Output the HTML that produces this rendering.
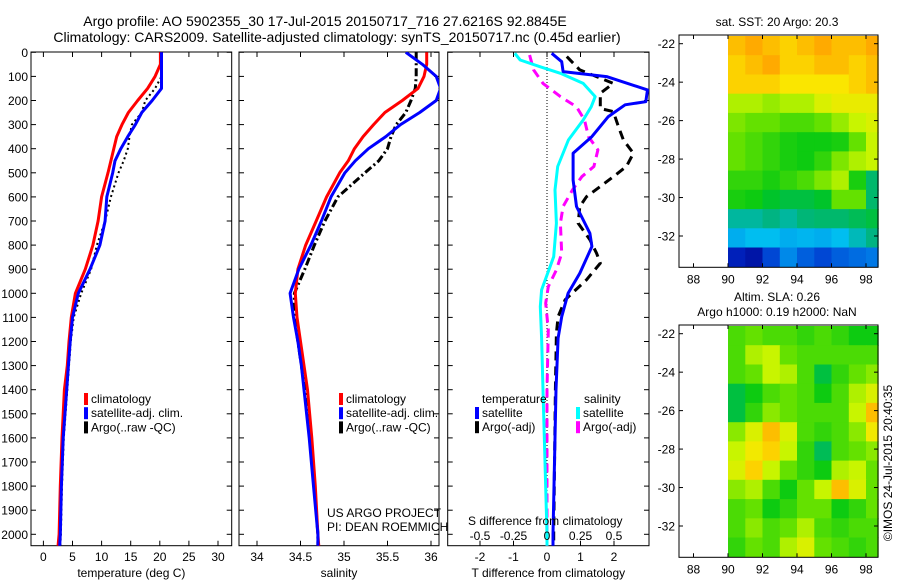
<!DOCTYPE html>
<html><head><meta charset="utf-8">
<style>
html,body{margin:0;padding:0;background:#fff;}
svg{display:block;font-family:"Liberation Sans",sans-serif;}
text{fill:#000;}
</style></head>
<body>
<svg id="fig" width="900" height="580" viewBox="0 0 900 580" xmlns="http://www.w3.org/2000/svg">
<text x="325" y="26" font-size="14" text-anchor="middle">Argo profile: AO 5902355_30 17-Jul-2015 20150717_716 27.6216S 92.8845E</text>
<text x="337" y="42" font-size="14" text-anchor="middle">Climatology: CARS2009. Satellite-adjusted climatology: synTS_20150717.nc (0.45d earlier)</text>
<text x="777" y="26" font-size="12" text-anchor="middle">sat. SST: 20 Argo: 20.3</text>
<text x="777" y="301" font-size="12" text-anchor="middle">Altim. SLA: 0.26</text>
<text x="777" y="316" font-size="12" text-anchor="middle">Argo h1000: 0.19 h2000: NaN</text>
<text transform="translate(892,463) rotate(-90)" font-size="12" text-anchor="middle">©IMOS 24-Jul-2015 20:40:35</text>
<g id="layer"></g>
</svg>
<script>
// ---------- data ----------
const depthStd = [0,50,100,150,200,250,300,350,400,450,500,600,700,800,900,1000,1100,1200,1300,1400,1600,1800,2000,2050];
const tempClim = [20.1,20.1,19.2,17.9,16.2,14.6,13.5,12.6,12.1,11.6,11.1,10.0,9.4,8.5,7.2,5.5,4.8,4.4,4.1,3.6,3.2,2.9,2.7,2.5];
const tempSat  = [20.3,20.3,20.3,20.3,18.7,16.9,15.8,14.5,13.3,12.3,11.9,10.9,10.6,9.7,8.0,6.0,5.0,4.6,4.3,4.0,3.4,3.1,2.9,2.8];
const tempArgo = [20.3,20.3,20.3,19.2,17.5,16.9,15.2,14.8,14.5,13.8,12.9,11.6,10.6,9.2,8.2,6.5,5.2,4.7,4.4,4.1,3.5,3.2,3.0,2.9];
const salClim  = [35.95,35.95,35.92,35.85,35.67,35.47,35.34,35.22,35.12,35.05,34.95,34.8,34.68,34.56,34.47,34.44,34.46,34.5,34.54,34.58,34.63,34.67,34.7,34.71];
const salSat   = [35.71,35.9,36.06,36.11,36.06,35.87,35.65,35.48,35.28,35.13,35.01,34.85,34.74,34.62,34.48,34.38,34.42,34.47,34.51,34.54,34.6,34.65,34.7,34.7];
const salArgo  = [35.83,35.83,35.83,35.82,35.77,35.71,35.6,35.54,35.5,35.4,35.24,34.93,34.78,34.66,34.55,34.43,34.43,34.47,34.51,34.55,34.61,34.66,34.7,34.7];

const tdSatDepth = [4,39,80,101,156,205,218,267,350,419,530,640,751,806,917,1000,1097,1186,1400,2000,2050];
const tdSat      = [0.14,0.44,0.48,1.78,3.0,2.95,2.33,1.83,1.34,0.78,0.78,0.88,1.28,1.34,0.98,0.63,0.44,0.33,0.27,0.18,0.18];
const tdArgoDepth = [18,73,129,170,233,246,308,364,419,474,516,557,599,640,709,778,834,875,944,1027,1097,1166,1400,2000,2050];
const tdArgo      = [0.59,0.98,1.98,1.59,1.59,1.98,2.13,2.28,2.58,2.37,1.98,1.59,1.18,0.98,0.93,1.28,1.48,1.59,1.18,0.54,0.33,0.28,0.25,0.2,0.2];
const sdSatDepth = [4,32,60,87,129,184,226,281,364,474,571,709,848,986,1055,1186,1400,2000,2050];
const sdSat      = [-0.24,-0.2,-0.05,0.1,0.27,0.36,0.33,0.27,0.16,0.08,0.06,0.07,0.05,-0.04,-0.05,-0.04,-0.03,0,0];
const sdArgoDepth = [11,73,129,184,226,281,350,405,474,516,571,640,709,834,903,972,1041,1152,1400,2000,2050];
const sdArgo      = [-0.13,-0.1,-0.03,0.1,0.22,0.28,0.31,0.38,0.35,0.26,0.19,0.12,0.1,0.11,0.07,0.01,-0.01,0.01,0,0,0];

const depthTicks = [0,100,200,300,400,500,600,700,800,900,1000,1100,1200,1300,1400,1500,1600,1700,1800,1900,2000];
const tempTicks = [0,5,10,15,20,25,30];
const salTicks = [34,34.5,35,35.5,36];
const tdTicks = [-2,-1,0,1,2];
const sdTicks = [-0.5,-0.25,0,0.25,0.5];
const lonTicks = [88,90,92,94,96,98];
const latTicks = [-22,-24,-26,-28,-30,-32];

const sstGrid = [
 [0.8,0.82,0.8,0.78,0.8,0.82,0.8,0.8,0.82],
 [0.78,0.8,0.82,0.78,0.78,0.8,0.8,0.78,0.8],
 [0.78,0.78,0.78,0.76,0.76,0.76,0.76,0.78,0.8],
 [0.68,0.68,0.66,0.68,0.68,0.72,0.74,0.74,0.74],
 [0.64,0.62,0.62,0.6,0.6,0.62,0.66,0.7,0.72],
 [0.62,0.6,0.58,0.56,0.55,0.55,0.56,0.62,0.7],
 [0.62,0.6,0.58,0.56,0.55,0.58,0.64,0.68,0.7],
 [0.58,0.58,0.56,0.58,0.6,0.64,0.68,0.56,0.46],
 [0.56,0.55,0.52,0.5,0.5,0.52,0.62,0.62,0.46],
 [0.42,0.42,0.44,0.42,0.45,0.46,0.46,0.48,0.5],
 [0.34,0.36,0.36,0.34,0.35,0.34,0.36,0.4,0.44],
 [0.12,0.08,0.2,0.3,0.24,0.2,0.24,0.26,0.28]];
const slaGrid = [
 [0.6,0.62,0.6,0.6,0.58,0.6,0.58,0.55,0.55],
 [0.6,0.68,0.7,0.62,0.6,0.6,0.6,0.6,0.6],
 [0.6,0.62,0.7,0.68,0.6,0.5,0.58,0.62,0.65],
 [0.5,0.55,0.6,0.62,0.6,0.55,0.6,0.68,0.72],
 [0.5,0.58,0.65,0.62,0.6,0.6,0.6,0.7,0.8],
 [0.65,0.72,0.8,0.72,0.6,0.58,0.6,0.65,0.75],
 [0.7,0.75,0.78,0.7,0.58,0.48,0.6,0.62,0.65],
 [0.72,0.78,0.7,0.62,0.58,0.55,0.68,0.7,0.62],
 [0.65,0.68,0.6,0.55,0.62,0.7,0.8,0.72,0.62],
 [0.6,0.62,0.55,0.58,0.62,0.62,0.55,0.58,0.62],
 [0.6,0.65,0.6,0.62,0.68,0.6,0.58,0.6,0.6],
 [0.58,0.62,0.6,0.68,0.72,0.62,0.6,0.58,0.6]];

// ---------- helpers ----------
const NS='http://www.w3.org/2000/svg';
const layer=document.getElementById('layer');
function mk(tag,attrs,parent){const e=document.createElementNS(NS,tag);for(const k in attrs)e.setAttribute(k,attrs[k]);(parent||layer).appendChild(e);return e;}
function lin(d0,d1,r0,r1){return v=>r0+(v-d0)*(r1-r0)/(d1-d0);}

const PT=52, PB=545.7;
const yD=lin(0,1000,52.3,293.3);

function panel(name,x0,x1,xs,ticks,labelsFmt,xlabel,showDepth){
  const g=mk('g',{});
  
  
  const cid='clip-'+name;
  const cp=mk('clipPath',{id:cid},g);
  mk('rect',{x:x0,y:PT,width:x1-x0,height:PB-PT},cp);
  const fr=mk('rect',{x:x0,y:PT,width:x1-x0,height:PB-PT,fill:'none',stroke:'#000','stroke-width':1},g);
  
  
  ticks.forEach(t=>{const x=xs(t);
    mk('line',{x1:x,x2:x,y1:PB,y2:PB-5,stroke:'#000'},g);
    mk('line',{x1:x,x2:x,y1:PT,y2:PT+5,stroke:'#000'},g);
    const tl=mk('text',{x:x,y:561,'font-size':12,'text-anchor':'middle'},g);tl.textContent=labelsFmt(t);
    
    
  });
  depthTicks.forEach(d=>{const y=yD(d);
    mk('line',{x1:x0,x2:x0+5,y1:y,y2:y,stroke:'#000'},g);
    mk('line',{x1:x1,x2:x1-5,y1:y,y2:y,stroke:'#000'},g);
    if(showDepth){const tl=mk('text',{x:28,y:y+4.5,'font-size':12,'text-anchor':'end'},g);tl.textContent=d;
      
      }
  });
  const xl=mk('text',{x:(x0+x1)/2,y:577,'font-size':12,'text-anchor':'middle'},g);xl.textContent=xlabel;
  
  
  const inner=mk('g',{'clip-path':'url(#'+cid+')'},g);
  return inner;
}
function series(parent,name,xs,vals,depths,color,w,dash){
  const pts=vals.map((v,i)=>xs(v).toFixed(1)+','+yD(depths[i]).toFixed(1)).join(' ');
  const p=mk('polyline',{points:pts,fill:'none',stroke:color,'stroke-width':w,'stroke-linejoin':'round'},parent);
  if(dash)p.setAttribute('stroke-dasharray',dash);
  
  
}
function legend(x,y,items){
  items.forEach((it,i)=>{
    const yy=y+i*14.2;
    mk('rect',{x:x,y:yy-10,width:4,height:12,fill:it[1]});
    const t=mk('text',{x:x+7,y:yy,'font-size':12});t.textContent=it[0];
    
    
  });
}
function txt(x,y,s,name,anchor){const t=mk('text',{x:x,y:y,'font-size':12,'text-anchor':anchor||'start'});t.textContent=s;
  
  return t;}

// ---------- panel 1: temperature ----------
const xT=lin(0,30,43.4,218);
const p1=panel('temperature-panel',31,231.7,xT,tempTicks,t=>t,'temperature (deg C)',true);
series(p1,'temp-argo-raw',xT,tempArgo,depthStd,'#000',2,'2,3');
series(p1,'temp-climatology',xT,tempClim,depthStd,'#f00',3);
series(p1,'temp-satellite-adj',xT,tempSat,depthStd,'#00f',3);
legend(84,403,[['climatology','#f00'],['satellite-adj. clim.','#00f'],['Argo(..raw -QC)','#000']]);

// ---------- panel 2: salinity ----------
const xS=lin(34,36,257,431);
const p2=panel('salinity-panel',239,439,xS,salTicks,t=>t,'salinity',false);
series(p2,'sal-argo-raw',xS,salArgo,depthStd,'#000',3,'8,3,2,3');
series(p2,'sal-climatology',xS,salClim,depthStd,'#f00',3);
series(p2,'sal-satellite-adj',xS,salSat,depthStd,'#00f',3);
legend(339,403,[['climatology','#f00'],['satellite-adj. clim.','#00f'],['Argo(..raw -QC)','#000']]);
txt(327,517,'US ARGO PROJECT','project-credit');
txt(327,531,'PI: DEAN ROEMMICH','pi-credit');

// ---------- panel 3: differences ----------
const xTD=lin(0,2,547,614);
const xSD=lin(0,0.5,547,614);
const p3=panel('difference-panel',447.7,649,xTD,tdTicks,t=>t,'T difference from climatology',false);
mk('line',{x1:xTD(0),x2:xTD(0),y1:PT,y2:PB,stroke:'#000','stroke-width':1,'stroke-dasharray':'1,2'},p3);
sdTicks.forEach(t=>{const l=txt(xSD(t),540,String(t),'s-diff-tick-label','middle');});
txt(468,525,'S difference from climatology','s-diff-axis-title');
series(p3,'tdiff-argo',xTD,tdArgo,tdArgoDepth,'#000',3,'9,6');
series(p3,'sdiff-argo',xSD,sdArgo,sdArgoDepth,'#f0f',3,'9,6');
series(p3,'sdiff-satellite',xSD,sdSat,sdSatDepth,'#0ff',3);
series(p3,'tdiff-satellite',xTD,tdSat,tdSatDepth,'#00f',3);
txt(482,403,'temperature','legend-temperature-header');
txt(584,403,'salinity','legend-salinity-header');
legend(475,417,[['satellite','#00f'],['Argo(-adj)','#000']]);
legend(576,417,[['satellite','#0ff'],['Argo(-adj)','#f0f']]);

// ---------- maps ----------
const stops=[[0,0,0,130],[0.15,0,40,200],[0.28,0,120,230],[0.36,0,190,240],[0.44,0,180,130],[0.54,0,200,20],[0.62,100,225,0],[0.7,200,245,0],[0.76,250,230,0],[0.82,255,170,0],[1,230,110,0]];
function cmap(v){for(let i=1;i<stops.length;i++){if(v<=stops[i][0]){const a=stops[i-1],b=stops[i],f=(v-a[0])/(b[0]-a[0]);
  return 'rgb('+[1,2,3].map(k=>Math.round(a[k]+f*(b[k]-a[k]))).join(',')+')';}}return 'rgb(230,110,0)';}
function map(name,top,bot,grid){
  const xL=lin(90,98,728,866), yL=lin(-22,-32,top+8.7,top+8.7+192.3);
  const g=mk('g',{});
  
  
  grid.forEach((row,r)=>row.forEach((v,c)=>{
    const la0=-21.6-r, la1=la0-1, lo0=90+c, lo1=Math.min(lo0+1,98.7);
    const y0=Math.max(yL(la0),top), y1=Math.min(yL(la1),bot);
    const cell=mk('rect',{x:xL(lo0).toFixed(1),y:y0.toFixed(1),width:(xL(lo1)-xL(lo0)+0.6).toFixed(1),height:(y1-y0+0.6).toFixed(1),fill:cmap(v)},g);
    
    
  }));
  mk('rect',{x:679,y:top,width:199,height:bot-top,fill:'none',stroke:'#000'},g);
  lonTicks.forEach(t=>{const x=xL(t);mk('line',{x1:x,x2:x,y1:bot,y2:bot-4,stroke:'#000'},g);mk('line',{x1:x,x2:x,y1:top,y2:top+4,stroke:'#000'},g);
    const l=mk('text',{x:x,y:bot+16,'font-size':12,'text-anchor':'middle'},g);l.textContent=t;
    
    });
  latTicks.forEach(t=>{const y=yL(t);mk('line',{x1:679,x2:683,y1:y,y2:y,stroke:'#000'},g);mk('line',{x1:878,x2:874,y1:y,y2:y,stroke:'#000'},g);
    const l=mk('text',{x:675,y:y+4.5,'font-size':12,'text-anchor':'end'},g);l.textContent=t;
    
    });
}
map('sst-map',35,267.3,sstGrid);
map('sla-map',325,557.3,slaGrid);
</script>
</body></html>
